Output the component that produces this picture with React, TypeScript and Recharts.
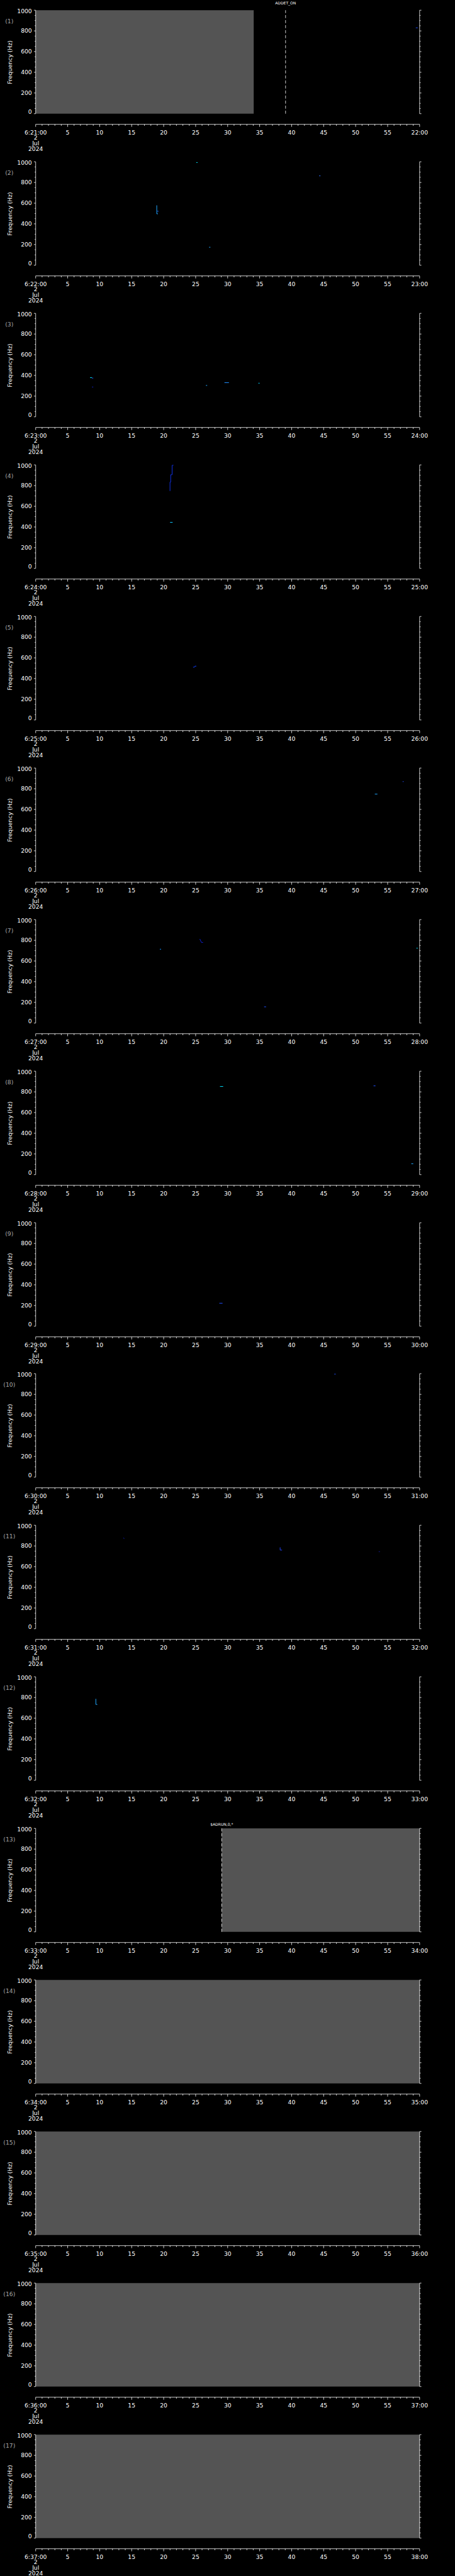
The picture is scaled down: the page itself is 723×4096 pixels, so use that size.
import React from 'react';
import {
  ScatterChart,
  Scatter,
  XAxis,
  YAxis,
  ReferenceArea,
  ReferenceLine,
} from 'recharts';

// panel labels, one per minute of data
const PANEL_NAMES = ['(1)', '(2)', '(3)', '(4)', '(5)', '(6)', '(7)', '(8)', '(9)', '(10)', '(11)', '(12)', '(13)', '(14)', '(15)', '(16)', '(17)'];
const START_LABELS = ['6:21:00', '6:22:00', '6:23:00', '6:24:00', '6:25:00', '6:26:00', '6:27:00', '6:28:00', '6:29:00', '6:30:00', '6:31:00', '6:32:00', '6:33:00', '6:34:00', '6:35:00', '6:36:00', '6:37:00'];
const END_LABELS = ['22:00', '23:00', '24:00', '25:00', '26:00', '27:00', '28:00', '29:00', '30:00', '31:00', '32:00', '33:00', '34:00', '35:00', '36:00', '37:00', '38:00'];
const DATE_LINES = ['2', 'Jul', '2024'];

const SECOND_TICKS = [0, 1, 2, 3, 4, 5, 6, 7, 8, 9, 10, 11, 12, 13, 14, 15, 16, 17, 18, 19, 20, 21, 22, 23, 24, 25, 26, 27, 28, 29, 30, 31, 32, 33, 34, 35, 36, 37, 38, 39, 40, 41, 42, 43, 44, 45, 46, 47, 48, 49, 50, 51, 52, 53, 54, 55, 56, 57, 58, 59, 60];
const FREQ_TICKS = [0, 50, 100, 150, 200, 250, 300, 350, 400, 450, 500, 550, 600, 650, 700, 750, 800, 850, 900, 950, 1000];

// gray (no data) spans, seconds within the panel's minute
const GRAY_SPANS = [
  { panel: 1, from: 0, to: 34.07 },
  { panel: 13, from: 29.07, to: 60 },
  { panel: 14, from: 0, to: 60 },
  { panel: 15, from: 0, to: 60 },
  { panel: 16, from: 0, to: 60 },
  { panel: 17, from: 0, to: 60 },
];

// dashed event markers
const EVENTS = [
  { panel: 1, t: 39.05, label: 'ADDET_ON' },
  { panel: 13, t: 29.07, label: '$ADRUN,0,*' },
];

// small spectral traces [seconds, Hz]
const TRACES = [
  { panel: 1, color: '#2050ff', pts: [[59.4, 830], [59.7, 830]] },
  { panel: 2, color: '#20a8ff', pts: [[18.92, 579], [18.92, 497], [19.1, 497]] },
  { panel: 2, color: '#2060ff', pts: [[19.0, 522], [19.2, 522]] },
  { panel: 2, color: '#00e8ff', pts: [[25.1, 993], [25.3, 993]] },
  { panel: 2, color: '#20a8ff', pts: [[27.1, 174], [27.3, 174]] },
  { panel: 2, color: '#3070ff', pts: [[44.3, 864], [44.5, 864]] },
  { panel: 3, color: '#00e8ff', pts: [[8.5, 379], [8.8, 379]] },
  { panel: 3, color: '#2050ff', pts: [[8.8, 374], [9.0, 374]] },
  { panel: 3, color: '#1020c0', pts: [[8.8, 288], [9.0, 288]] },
  { panel: 3, color: '#20a8ff', pts: [[26.6, 303], [26.8, 303]] },
  { panel: 3, color: '#2090ff', pts: [[29.5, 330], [30.2, 330]] },
  { panel: 3, color: '#00d0ff', pts: [[34.8, 325], [35.0, 325]] },
  { panel: 4, color: '#1030e0', pts: [[21.55, 997], [21.32, 997], [21.32, 905], [21.1, 905], [21.1, 834], [20.99, 834], [20.99, 748]] },
  { panel: 4, color: '#10c8ff', pts: [[21.0, 445], [21.4, 445]] },
  { panel: 5, color: '#1040ff', pts: [[24.6, 510], [24.8, 510], [24.9, 520], [25.1, 520]] },
  { panel: 6, color: '#20a8ff', pts: [[53.0, 748], [53.4, 748]] },
  { panel: 6, color: '#2050ff', pts: [[57.35, 869], [57.5, 869]] },
  { panel: 7, color: '#1090ff', pts: [[19.4, 714], [19.6, 714]] },
  { panel: 7, color: '#1020d0', pts: [[25.65, 813], [25.9, 780], [26.15, 780]] },
  { panel: 7, color: '#2050ff', pts: [[35.7, 157], [36.0, 157]] },
  { panel: 7, color: '#00e0ff', pts: [[59.5, 724], [59.7, 724]] },
  { panel: 8, color: '#00e0ff', pts: [[28.8, 852], [29.3, 852]] },
  { panel: 8, color: '#2050ff', pts: [[52.8, 858], [53.1, 858]] },
  { panel: 8, color: '#20a8ff', pts: [[58.7, 105], [59.0, 105]] },
  { panel: 9, color: '#2050ff', pts: [[28.7, 222], [29.2, 222]] },
  { panel: 10, color: '#2050ff', pts: [[46.65, 996], [46.9, 996]] },
  { panel: 11, color: '#1020c0', pts: [[13.7, 877], [13.85, 872]] },
  { panel: 11, color: '#2040f0', pts: [[38.2, 786], [38.2, 760], [38.5, 760]] },
  { panel: 11, color: '#101890', pts: [[53.6, 745], [53.8, 745]] },
  { panel: 12, color: '#20a8ff', pts: [[9.4, 787], [9.4, 733], [9.63, 733]] },
];

// axis extent of every panel: one minute, 0-1000 Hz
const X_DOMAIN = [0, 60];
const Y_TOP = 1000;

// geometry of the original 1024px-wide plot, scaled down
const S = 723 / 1024;
const W = 723;
const PANEL_STEP = 4096 / 17;
const PANEL_H = 241;
const REF = { left: 80.3, right: 944.4, top: 23, bottom: 256, axis: 280 };
const MARGIN_TOP = REF.top * S;
const PLOT_H = (REF.axis - REF.top) * S;
const X_AXIS_H = PANEL_H - MARGIN_TOP - PLOT_H;
const Y_MIN = (-Y_TOP * (REF.axis - REF.bottom)) / (REF.bottom - REF.top);
const FONT = '"DejaVu Sans", sans-serif';
const LABEL_OFFSET: Record<string, number> = { ADDET_ON: 9.7, '$ADRUN,0,*': 3.8 };

const XTick = (props: any) => {
  const { x, y, payload, panel } = props;
  const v = payload.value;
  const major = v % 5 === 0;
  let label = '';
  if (v === X_DOMAIN[0]) label = START_LABELS[panel];
  else if (v === X_DOMAIN[1]) label = END_LABELS[panel];
  else if (major) label = String(v);
  return (
    <g>
      <line x1={x} y1={y} x2={x} y2={y + (major ? 4 : 2.3)} stroke="#fff" strokeWidth={0.8} />
      {label && (
        <text x={x} y={y + 16} textAnchor="middle" fill="#fff" fontSize={9.2} fontFamily={FONT}>
          {label}
        </text>
      )}
      {v === X_DOMAIN[0] &&
        DATE_LINES.map((d, i) => (
          <text key={d} x={x} y={y + [24.7, 33.4, 41.9][i]} textAnchor="middle" fill="#fff" fontSize={9.2} fontFamily={FONT}>
            {d}
          </text>
        ))}
    </g>
  );
};

const YTick = (props: any) => {
  const { x, y, payload, side } = props;
  const v = payload.value;
  const major = v % 200 === 0;
  const len = major ? 2.8 : 1.6;
  const dir = side === 'left' ? -1 : 1;
  const dy = v === Y_TOP ? 1.9 : v === 0 ? -2.8 : 0;
  return (
    <g>
      <line x1={x} y1={y} x2={x + dir * len} y2={y} stroke="#fff" strokeWidth={0.8} />
      {side === 'left' && major && (
        <text x={x - 6} y={y + 3.3 + dy} textAnchor="end" fill="#fff" fontSize={9.2} fontFamily={FONT}>
          {v}
        </text>
      )}
    </g>
  );
};

const Panel = ({ index }: { index: number }) => {
  const num = index + 1;
  const spans = GRAY_SPANS.filter((g) => g.panel === num);
  const events = EVENTS.filter((e) => e.panel === num);
  const traces = TRACES.filter((t) => t.panel === num);
  // invisible corners so every panel has data for its axes, even the empty ones
  const extent = [
    { t: X_DOMAIN[0], f: 0 },
    { t: X_DOMAIN[1], f: Y_TOP },
  ];
  return (
    <div style={{ position: 'absolute', left: 0, top: Math.round(index * PANEL_STEP), width: W, height: PANEL_H }}>
      <ScatterChart width={W} height={PANEL_H} margin={{ top: MARGIN_TOP, right: 0, bottom: 0, left: 0 }}>
        <XAxis
          dataKey="t"
          type="number"
          domain={X_DOMAIN}
          ticks={SECOND_TICKS}
          interval={0}
          height={X_AXIS_H}
          axisLine={{ stroke: '#fff', strokeWidth: 0.8 }}
          tickLine={false}
          tickSize={0}
          tickMargin={0}
          tick={(p: any) => <XTick {...p} panel={index} />}
        />
        <YAxis
          yAxisId="l"
          dataKey="f"
          type="number"
          domain={[Y_MIN, Y_TOP]}
          allowDataOverflow
          ticks={FREQ_TICKS}
          interval={0}
          width={REF.left * S}
          axisLine={false}
          tickLine={false}
          tickSize={0}
          tickMargin={0}
          tick={(p: any) => <YTick {...p} side="left" />}
        />
        <YAxis
          yAxisId="r"
          orientation="right"
          dataKey="f"
          type="number"
          domain={[Y_MIN, Y_TOP]}
          allowDataOverflow
          ticks={FREQ_TICKS}
          interval={0}
          width={W - REF.right * S}
          axisLine={false}
          tickLine={false}
          tickSize={0}
          tickMargin={0}
          tick={(p: any) => <YTick {...p} side="right" />}
        />
        <Scatter yAxisId="l" data={extent} shape={() => <g />} isAnimationActive={false} />
        <Scatter yAxisId="r" data={extent} shape={() => <g />} isAnimationActive={false} />
        {spans.map((g, i) => (
          <ReferenceArea
            key={`g${i}`}
            yAxisId="l"
            x1={g.from}
            x2={g.to}
            y1={0}
            y2={Y_TOP}
            fill="#545454"
            fillOpacity={1}
            stroke="none"
            ifOverflow="visible"
          />
        ))}
        {events.map((e, i) => (
          <ReferenceLine
            key={`e${i}`}
            yAxisId="l"
            segment={[{ x: e.t, y: 0 }, { x: e.t, y: Y_TOP }]}
            stroke="#fff"
            strokeWidth={0.8}
            strokeDasharray="4.8 3.2"
            ifOverflow="visible"
            label={{ value: e.label, position: 'top', offset: LABEL_OFFSET[e.label], fill: '#fff', fontSize: 6, fontFamily: FONT }}
          />
        ))}
        <ReferenceLine yAxisId="l" segment={[{ x: X_DOMAIN[0], y: 0 }, { x: X_DOMAIN[0], y: Y_TOP }]} stroke="#fff" strokeWidth={0.8} ifOverflow="visible" />
        <ReferenceLine yAxisId="l" segment={[{ x: X_DOMAIN[1], y: 0 }, { x: X_DOMAIN[1], y: Y_TOP }]} stroke="#fff" strokeWidth={0.8} ifOverflow="visible" />
        {traces.map((tr, i) => (
          <Scatter
            key={`t${i}`}
            yAxisId="l"
            data={tr.pts.map(([t, f]) => ({ t, f }))}
            line={{ stroke: tr.color, strokeWidth: 1 }}
            lineType="joint"
            shape={() => <g />}
            isAnimationActive={false}
          />
        ))}
      </ScatterChart>
      <div
        style={{
          position: 'absolute',
          left: 14.8,
          top: 33.8,
          transform: 'translate(-50%, -50%)',
          color: '#a8a8a8',
          fontSize: 9.2,
          fontFamily: FONT,
          lineHeight: 1,
          whiteSpace: 'nowrap',
        }}
      >
        {PANEL_NAMES[index]}
      </div>
      <div
        style={{
          position: 'absolute',
          left: 16.1,
          top: 98.8,
          transform: 'translate(-50%, -50%) rotate(-90deg)',
          color: '#fff',
          fontSize: 9.2,
          fontFamily: FONT,
          lineHeight: 1,
          whiteSpace: 'nowrap',
        }}
      >
        Frequency (Hz)
      </div>
    </div>
  );
}

export default function App() {
  return (
    <div style={{ position: 'relative', width: W, height: 4096, background: '#000', overflow: 'hidden' }}>
      <style>{'body{margin:0;background:#000;}'}</style>
      {PANEL_NAMES.map((_, i) => (
        <Panel key={i} index={i} />
      ))}
    </div>
  );
}
